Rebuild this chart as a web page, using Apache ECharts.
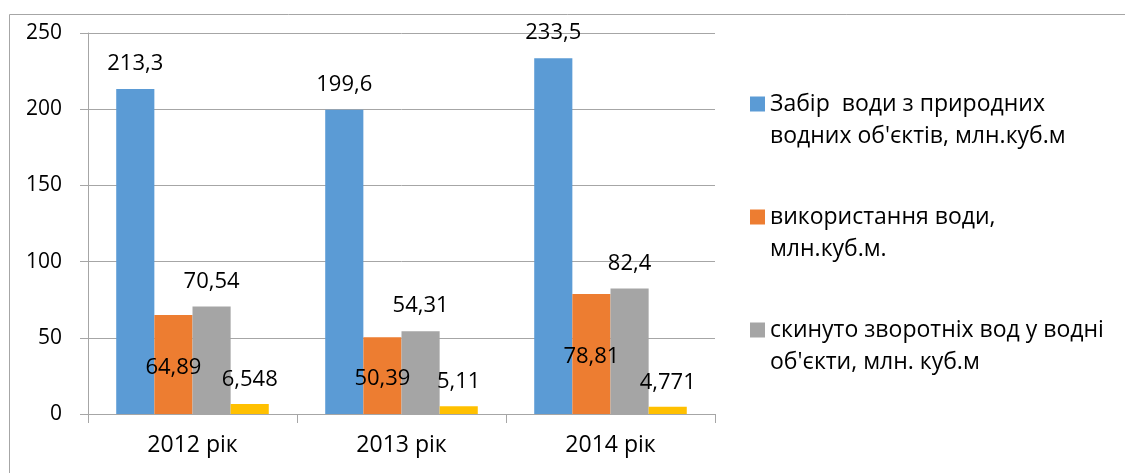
<!DOCTYPE html>
<html>
<head>
<meta charset="utf-8">
<script src="https://cdn.jsdelivr.net/npm/echarts@6/dist/echarts.min.js"></script>
<style>
html,body{margin:0;padding:0;background:#fff;}
#c{width:1125px;height:473px;}
</style>
</head>
<body>
<div id="c"></div>
<script>
const categories = ['2012 рік', '2013 рік', '2014 рік'];
const seriesNames = [
  "Забір  води з природних водних об'єктів, млн.куб.м",
  "використання води, млн.куб.м.",
  "скинуто зворотніх вод у водні об'єкти, млн. куб.м",
  "інше"
];
const legendLines = [
  ["Забір  води з природних", "водних об'єктів, млн.куб.м"],
  ["використання води,", "млн.куб.м."],
  ["скинуто зворотніх вод у водні", "об'єкти, млн. куб.м"]
];
const intake = [213.3, 199.6, 233.5];
const usage = [64.89, 50.39, 78.81];
const discharge = [70.54, 54.31, 82.4];
const other = [6.548, 5.11, 4.771];
const yTicks = { min: 0, max: 250, interval: 50 };

const FONT = 'Open Sans';
const colors = ['#5b9bd5', '#ed7d31', '#a5a5a5', '#ffc000'];
const fmt = p => String(p.value).replace('.', ',');

const chart = echarts.init(document.getElementById('c'));
const legendMap = {};
legendLines.forEach((l, i) => { legendMap[seriesNames[i]] = '\n' + l.join('\n'); });

function barSeries(i, data, label) {
  return {
    name: seriesNames[i],
    type: 'bar',
    data: data,
    barGap: '0%',
    barCategoryGap: '27%',
    itemStyle: { color: colors[i] },
    label: Object.assign({
      show: true,
      formatter: fmt,
      color: '#000',
      fontFamily: FONT,
      fontSize: 22
    }, label)
  };
}

chart.setOption({
  animation: false,
  color: colors,
  graphic: [{
    type: 'rect',
    shape: { x: 9.5, y: 14.5, width: 1300, height: 700 },
    style: { fill: 'none', stroke: '#a6a6a6', lineWidth: 1 },
    z: -10
  }],
  grid: { left: 88, right: 410, top: 33, bottom: 59, containLabel: false },
  legend: {
    data: seriesNames.slice(0, 3),
    orient: 'vertical',
    left: 750,
    top: 56,
    padding: 0,
    itemWidth: 15,
    itemHeight: 15,
    itemGap: 17,
    icon: 'rect',
    formatter: n => legendMap[n],
    textStyle: { fontFamily: FONT, fontSize: 23, color: '#000', lineHeight: 32 }
  },
  xAxis: {
    type: 'category',
    data: categories,
    axisLine: { lineStyle: { color: '#a6a6a6' } },
    axisTick: { show: true, length: 9, lineStyle: { color: '#a6a6a6' } },
    axisLabel: { fontFamily: FONT, fontSize: 23, color: '#000', margin: 20 }
  },
  yAxis: {
    type: 'value',
    min: yTicks.min,
    max: yTicks.max,
    interval: yTicks.interval,
    axisLine: { show: true, lineStyle: { color: '#a6a6a6' } },
    axisTick: { show: true, length: 8, lineStyle: { color: '#a6a6a6' } },
    splitLine: { lineStyle: { color: '#a6a6a6' } },
    axisLabel: { fontFamily: FONT, fontSize: 21, color: '#000', margin: 26 }
  },
  series: [
    barSeries(0, intake, { position: 'top', distance: 14 }),
    barSeries(1, usage, { position: 'inside', offset: [0, 3] }),
    barSeries(2, discharge, { position: 'top', distance: 14 }),
    barSeries(3, other, { position: 'top', distance: 13 })
  ]
});
</script>
</body>
</html>
